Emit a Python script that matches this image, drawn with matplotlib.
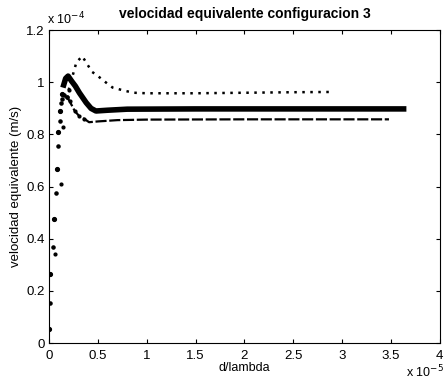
import matplotlib.pyplot as plt
import numpy as np

# d/lambda in units of 1e-5, velocity in units of 1e-4 m/s
x_sup = [0.06, 0.12, 0.145, 0.2, 0.28, 0.34, 0.44, 0.48, 0.58, 0.65, 0.78, 0.87, 1.0, 1.5, 2.0, 2.5, 2.88]
y_sup = [0.342, 0.61, 0.83, 0.97, 1.077, 1.10, 1.04, 1.03, 1.0, 0.98, 0.967, 0.96, 0.958, 0.958, 0.96, 0.962, 0.963]

x_med = [0.0, 0.01, 0.05, 0.078, 0.094, 0.11, 0.128, 0.15, 0.17, 0.195, 0.23, 0.27, 0.31, 0.38, 0.43, 0.48,
         0.6, 0.8, 1.5, 2.5, 3.63]
y_med = [0.053, 0.265, 0.477, 0.668, 0.81, 0.89, 0.954, 0.99, 1.015, 1.024, 1.005, 0.985, 0.96, 0.922, 0.90, 0.89,
         0.893, 0.897, 0.898, 0.898, 0.898]

x_inf = [0.01, 0.044, 0.068, 0.094, 0.11, 0.12, 0.128, 0.15, 0.18, 0.21, 0.263, 0.31, 0.36, 0.41, 0.5, 0.7,
         1.0, 2.0, 3.0, 3.48]
y_inf = [0.155, 0.37, 0.576, 0.755, 0.85, 0.92, 0.935, 0.95, 0.945, 0.928, 0.89, 0.87, 0.86, 0.847, 0.85, 0.855,
         0.857, 0.858, 0.858, 0.858]

plt.rcParams['font.family'] = ['Liberation Sans', 'DejaVu Sans']

fig = plt.figure(figsize=(4.46, 3.82), dpi=100)
ax = fig.add_axes([0.110, 0.102, 0.876, 0.819])

# steep rise drawn as loose dots, rest as traces
ax.plot(x_sup[:4], y_sup[:4], '.', color='black', markersize=4)
ax.plot(x_sup[3:], y_sup[3:], color='black', linestyle=(0, (1, 2.2)), linewidth=1.8)
ax.plot(x_med[:7], y_med[:7], '.', color='black', markersize=5.5)
ax.plot(x_med[7:], y_med[7:], color='black', linestyle='-', linewidth=4)
ax.plot(x_inf[:9], y_inf[:9], '.', color='black', markersize=4.5)
ax.plot(x_inf[8:], y_inf[8:], color='black', linestyle='--', dashes=(5, 1.2), linewidth=1.6)
ax.plot(x_inf[8:13], y_inf[8:13], '.', color='black', markersize=4)

ax.set_xlim(0, 4)
ax.set_ylim(0, 1.2)
ax.set_xticks(np.arange(0, 4.01, 0.5))
ax.set_xticklabels(['0', '0.5', '1', '1.5', '2', '2.5', '3', '3.5', '4'])
ax.set_yticks(np.arange(0, 1.21, 0.2))
ax.set_yticklabels(['0', '0.2', '0.4', '0.6', '0.8', '1', '1.2'])
ax.tick_params(direction='in', top=True, right=True, length=3, labelsize=9.5)
ax.tick_params(axis='x', pad=5)
ax.tick_params(axis='y', pad=3)
for s in ax.spines.values():
    s.set_linewidth(0.8)

ax.set_title('velocidad equivalente configuracion 3', fontsize=10, fontweight='bold', pad=9)
ax.set_xlabel('d/lambda', fontsize=9, labelpad=0)
ax.set_ylabel('velocidad equivalente (m/s)', fontsize=9.5, labelpad=3)

ax.text(-0.005, 1.008, r'x 10$^{-4}$', transform=ax.transAxes, fontsize=9, ha='left', va='bottom')
fig.text(0.995, 0.005, r'x 10$^{-5}$', fontsize=9, ha='right', va='bottom')

fig.savefig('out.png', dpi=100)
